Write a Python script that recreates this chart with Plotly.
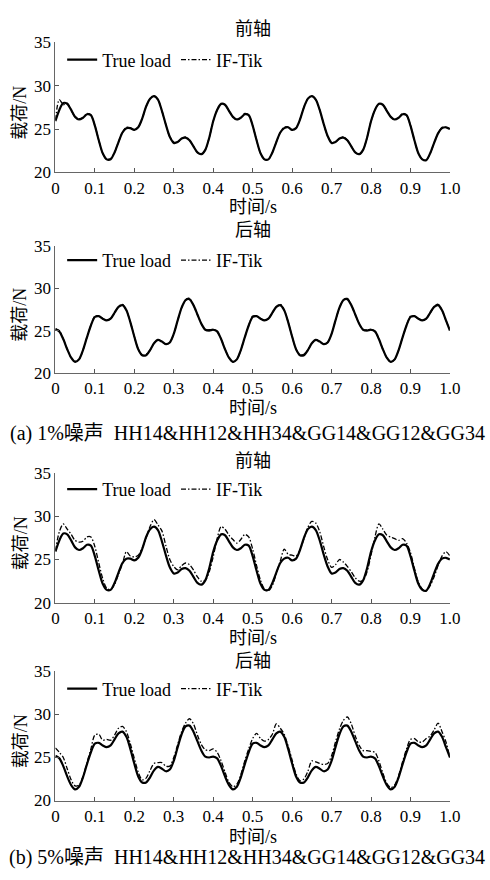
import plotly.graph_objects as go

# ---------------- data ----------------
t = [round(i * 0.01, 2) for i in range(101)]

front_true = [
    25.9, 27.2, 28.0, 27.9, 27.2, 26.4, 26.1, 26.3, 26.7, 26.6,
    25.4, 23.7, 22.2, 21.5, 21.5, 22.3, 23.5, 24.6, 25.1, 25.1,
    24.9, 25.2, 26.2, 27.6, 28.5, 28.8, 28.4, 27.1, 25.5, 24.1,
    23.4, 23.5, 23.9, 24.0, 23.7, 23.0, 22.3, 22.1, 22.6, 24.0,
    25.9, 27.2, 27.9, 27.8, 27.1, 26.4, 26.1, 26.3, 26.7, 26.6,
    25.4, 23.7, 22.2, 21.5, 21.5, 22.3, 23.5, 24.6, 25.1, 25.2,
    24.9, 25.1, 26.1, 27.5, 28.5, 28.8, 28.4, 27.2, 25.6, 24.2,
    23.4, 23.5, 23.9, 24.0, 23.7, 23.0, 22.3, 22.1, 22.6, 24.0,
    25.9, 27.2, 27.9, 27.8, 27.1, 26.4, 26.1, 26.3, 26.7, 26.6,
    25.4, 23.7, 22.2, 21.5, 21.4, 22.2, 23.4, 24.5, 25.1, 25.2,
    25.0,
]

front_if_1 = [
    26.0, 28.4, 27.8, 28.0, 27.2, 26.4, 26.2, 26.3, 26.8, 26.6,
    25.4, 23.7, 22.2, 21.5, 21.6, 22.3, 23.5, 24.6, 25.2, 25.1,
    24.9, 25.2, 26.2, 27.6, 28.5, 28.8, 28.4, 27.1, 25.5, 24.1,
    23.5, 23.5, 23.9, 24.1, 23.7, 23.0, 22.3, 22.1, 22.6, 24.0,
    25.9, 27.2, 27.9, 27.8, 27.1, 26.4, 26.1, 26.3, 26.8, 26.6,
    25.4, 23.7, 22.2, 21.5, 21.5, 22.3, 23.5, 24.6, 25.2, 25.2,
    24.9, 25.1, 26.1, 27.5, 28.5, 28.8, 28.4, 27.2, 25.6, 24.2,
    23.5, 23.5, 23.9, 24.1, 23.7, 23.0, 22.3, 22.1, 22.6, 24.0,
    25.9, 27.2, 27.9, 27.8, 27.1, 26.4, 26.1, 26.3, 26.8, 26.6,
    25.4, 23.7, 22.2, 21.5, 21.4, 22.2, 23.4, 24.5, 25.2, 25.2,
    25.0,
]

front_if_5 = [
    26.0, 28.2, 29.1, 28.5, 27.9, 27.2, 27.0, 27.1, 27.6, 27.6,
    26.5, 24.6, 22.8, 21.7, 21.5, 22.1, 23.3, 24.5, 25.9, 25.4,
    25.3, 25.5, 26.3, 27.5, 28.8, 29.6, 29.0, 28.3, 26.6, 25.0,
    24.2, 23.8, 24.3, 24.6, 24.4, 23.8, 23.0, 22.5, 22.6, 23.6,
    25.3, 27.4, 28.8, 28.5, 27.8, 27.3, 26.9, 27.3, 27.9, 27.6,
    26.2, 24.3, 22.6, 21.6, 21.4, 22.0, 23.4, 24.8, 26.2, 25.6,
    25.5, 25.4, 26.1, 27.4, 28.7, 29.4, 29.2, 28.2, 26.5, 25.0,
    24.1, 24.4, 25.0, 24.7, 24.2, 23.6, 22.9, 22.5, 22.6, 23.6,
    25.5, 27.6, 29.1, 28.5, 27.8, 27.6, 27.4, 27.2, 27.4, 26.9,
    25.8, 24.0, 22.4, 21.6, 21.4, 22.0, 23.0, 24.3, 25.4, 25.9,
    25.4,
]

rear_true = [
    25.2, 24.9, 24.0, 22.8, 21.8, 21.3, 21.6, 22.7, 24.2, 25.6,
    26.6, 26.7, 26.4, 26.2, 26.4, 27.1, 27.8, 28.0, 27.4, 26.0,
    24.3, 22.8, 22.1, 22.1, 22.7, 23.5, 23.9, 23.7, 23.4, 23.6,
    24.6, 26.2, 27.7, 28.6, 28.7, 28.0, 26.9, 25.8, 25.1, 25.0,
    25.1, 24.9, 24.0, 22.8, 21.8, 21.3, 21.6, 22.7, 24.2, 25.6,
    26.6, 26.7, 26.4, 26.2, 26.4, 27.1, 27.8, 28.0, 27.4, 26.0,
    24.3, 22.8, 22.1, 22.1, 22.7, 23.5, 23.9, 23.7, 23.4, 23.6,
    24.6, 26.2, 27.7, 28.6, 28.7, 28.0, 26.9, 25.8, 25.1, 25.0,
    25.1, 24.9, 24.0, 22.8, 21.8, 21.3, 21.6, 22.7, 24.2, 25.6,
    26.6, 26.7, 26.4, 26.2, 26.4, 27.1, 27.8, 28.0, 27.4, 26.2,
    25.0,
]

rear_if_1 = [
    25.2, 25.0, 24.0, 22.8, 21.8, 21.4, 21.6, 22.7, 24.2, 25.6,
    26.7, 26.7, 26.4, 26.2, 26.4, 27.1, 27.8, 28.1, 27.4, 26.0,
    24.3, 22.8, 22.1, 22.2, 22.7, 23.5, 23.9, 23.7, 23.4, 23.6,
    24.6, 26.2, 27.7, 28.6, 28.8, 28.0, 26.9, 25.8, 25.1, 25.1,
    25.1, 24.9, 24.0, 22.8, 21.8, 21.3, 21.6, 22.7, 24.2, 25.6,
    26.7, 26.7, 26.4, 26.2, 26.4, 27.1, 27.8, 28.1, 27.4, 26.0,
    24.3, 22.8, 22.1, 22.2, 22.7, 23.5, 23.9, 23.7, 23.4, 23.6,
    24.6, 26.2, 27.7, 28.6, 28.8, 28.0, 26.9, 25.8, 25.1, 25.1,
    25.1, 24.9, 24.0, 22.8, 21.8, 21.3, 21.6, 22.7, 24.2, 25.6,
    26.7, 26.7, 26.4, 26.2, 26.4, 27.1, 27.8, 28.1, 27.4, 26.2,
    25.0,
]

rear_if_5 = [
    26.1, 25.6, 25.0, 23.7, 22.4, 21.7, 21.8, 22.8, 24.4, 26.0,
    27.6, 27.7, 27.0, 27.1, 27.0, 27.6, 28.4, 28.6, 28.0, 26.6,
    24.9, 23.3, 22.4, 22.6, 23.5, 24.3, 24.4, 24.4, 24.0, 24.0,
    25.0, 26.5, 28.0, 29.0, 29.5, 28.9, 27.6, 26.5, 25.9, 25.8,
    26.0, 25.6, 24.6, 23.3, 22.1, 21.6, 21.9, 23.0, 24.6, 26.0,
    27.2, 27.8, 27.2, 26.9, 27.1, 27.7, 28.9, 28.4, 27.7, 26.3,
    24.7, 23.1, 22.3, 22.5, 23.4, 24.6, 24.5, 24.3, 24.2, 24.3,
    25.2, 26.8, 28.3, 29.3, 29.7, 28.9, 27.5, 26.4, 25.8, 25.8,
    25.7, 25.6, 24.6, 23.2, 22.0, 21.5, 21.8, 22.9, 24.5, 26.0,
    27.1, 27.2, 26.8, 26.8, 27.2, 27.5, 28.2, 29.0, 28.0, 26.8,
    25.0,
]

x_ticks = [0, 0.1, 0.2, 0.3, 0.4, 0.5, 0.6, 0.7, 0.8, 0.9, 1.0]
x_tick_text = ["0", "0.1", "0.2", "0.3", "0.4", "0.5", "0.6", "0.7", "0.8", "0.9", "1.0"]
y_ticks = [20, 25, 30, 35]

panel_titles = ["前轴", "后轴", "前轴", "后轴"]
captions = ["(a) 1%噪声  HH14&HH12&HH34&GG14&GG12&GG34",
            "(b) 5%噪声  HH14&HH12&HH34&GG14&GG12&GG34"]
series_names = ["True load", "IF-Tik"]
x_title = "时间/s"
y_title = "载荷/N"

panels = [
    (front_true, front_if_1),
    (rear_true, rear_if_1),
    (front_true, front_if_5),
    (rear_true, rear_if_5),
]

# ---------------- layout (pixel geometry) ----------------
W, H = 490, 880
FONT = "Liberation Serif, 'Times New Roman', Noto Sans CJK SC, serif"
X0, X1 = 53, 460
# (pixel y of top=35, pixel y of bottom=20, title y, legend y, xtitle y)
geo = [
    (34, 167, 20, 52, 202),
    (242, 372, 226, 257, 408),
    (474, 607, 462, 491, 643),
    (677, 809, 666, 695, 846),
]
caption_y = [434, 867]

def py(p):
    return 1 - p / H

def px(p):
    return p / W

fig = go.Figure()
annotations = []
layout = {}
for i, ((tru, est), (ytop, ybot, ty, ly, xty)) in enumerate(zip(panels, geo)):
    k = "" if i == 0 else str(i + 1)
    lg = "legend" if i == 0 else "legend" + str(i + 1)
    fig.add_trace(go.Scatter(x=t, y=tru, mode="lines", name=series_names[0],
                             line=dict(color="black", width=2.2, shape="spline", smoothing=0.8),
                             xaxis="x" + k, yaxis="y" + k, legend=lg))
    fig.add_trace(go.Scatter(x=t, y=est, mode="lines", name=series_names[1],
                             line=dict(color="black", width=1.3, dash="5px,2px,1.5px,2px",
                                       shape="spline", smoothing=0.8),
                             xaxis="x" + k, yaxis="y" + k, legend=lg))
    layout["xaxis" + k] = dict(
        domain=[px(X0), px(X1)], anchor="y" + k, range=[0, 1.0],
        tickvals=x_ticks, ticktext=x_tick_text, ticks="inside", ticklen=4,
        tickcolor="#555", showline=True, linecolor="#666", linewidth=1,
        showgrid=False, zeroline=False, ticklabelstandoff=0,
        tickfont=dict(family=FONT, size=17, color="black"))
    layout["yaxis" + k] = dict(
        domain=[py(ybot), py(ytop)], anchor="x" + k, range=[20, 35],
        tickvals=y_ticks, ticks="inside", ticklen=4, tickcolor="#555",
        showline=True, linecolor="#666", linewidth=1, showgrid=False,
        zeroline=False, tickfont=dict(family=FONT, size=17, color="black"))
    layout[lg] = dict(
        x=px(60), y=py(ly), xanchor="left", yanchor="middle", orientation="h",
        bgcolor="rgba(0,0,0,0)", font=dict(family=FONT, size=18, color="black"),
        itemwidth=30, tracegroupgap=0)
    annotations.append(dict(text=panel_titles[i], x=px((X0 + X1) / 2), y=py(ty),
                            xref="paper", yref="paper", showarrow=False,
                            xanchor="center", yanchor="middle",
                            font=dict(family=FONT, size=18, color="black")))
    annotations.append(dict(text=x_title, x=px((X0 + X1) / 2), y=py(xty),
                            xref="paper", yref="paper", showarrow=False,
                            xanchor="center", yanchor="middle",
                            font=dict(family=FONT, size=18, color="black")))
    annotations.append(dict(text=y_title, x=px(17), y=py((ytop + ybot) / 2 + 5),
                            xref="paper", yref="paper", showarrow=False,
                            textangle=-90, xanchor="center", yanchor="middle",
                            font=dict(family=FONT, size=18, color="black")))

for cap, cy in zip(captions, caption_y):
    annotations.append(dict(text=cap, x=px(251), y=py(cy), xref="paper", yref="paper",
                            showarrow=False, xanchor="center", yanchor="middle",
                            font=dict(family=FONT, size=20, color="black")))

fig.update_layout(
    width=W, height=H, margin=dict(l=0, r=0, t=0, b=0),
    paper_bgcolor="white", plot_bgcolor="white",
    annotations=annotations, **layout)

fig.write_html("out.html", config={"displayModeBar": False})
